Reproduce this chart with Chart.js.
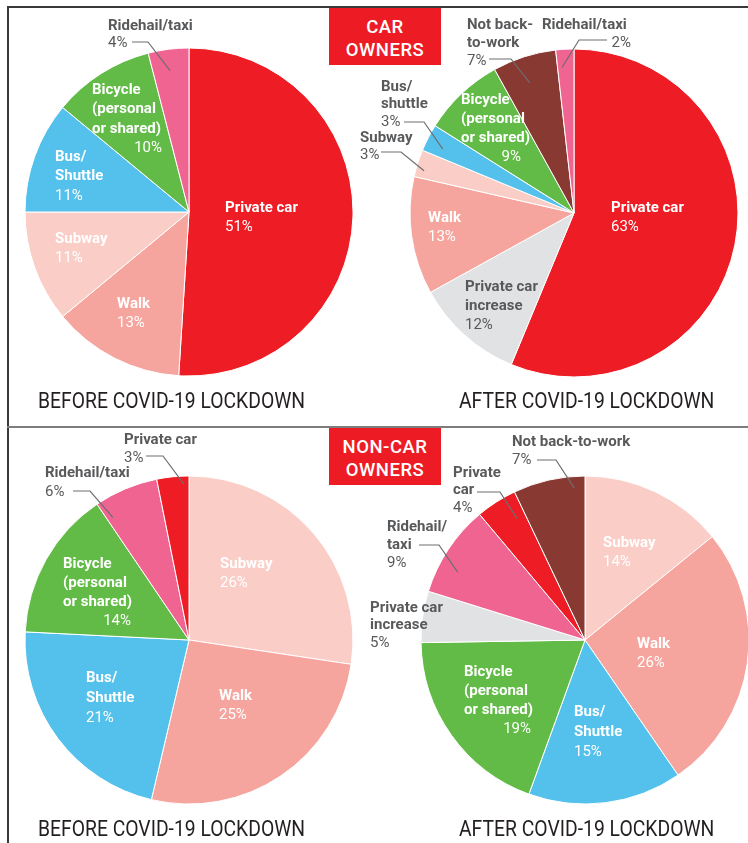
<!DOCTYPE html>
<html>
<head>
<meta charset="utf-8">
<script src="https://cdn.jsdelivr.net/npm/chart.js@4.4.1/dist/chart.umd.min.js"></script>
<style>
  html, body { margin: 0; padding: 0; background: #fff; }
  body { width: 748px; height: 843px; overflow: hidden; position: relative; font-family: Roboto, sans-serif; }
  canvas { position: absolute; left: 0; top: 0; }
  .rule { position: absolute; }
  .tag {
    position: absolute; left: 329px; width: 112px; height: 57px; box-sizing: border-box;
    padding-top: 8px; background: #ED1C24; color: #fff; text-align: center;
    font: 500 18.5px Roboto, sans-serif; line-height: 23px; letter-spacing: 0.5px;
  }
  .head {
    position: absolute; white-space: nowrap; color: #231f20;
    font: 400 22px Roboto, sans-serif; line-height: 22px; transform-origin: 0 50%;
  }
</style>
</head>
<body>
<div class="rule" style="left:7px;top:6px;width:741px;height:2px;background:#3a3a3a"></div>
<div class="rule" style="left:7px;top:6px;width:2px;height:837px;background:#3a3a3a"></div>
<div class="rule" style="left:7px;top:426px;width:741px;height:2px;background:#7d7d7d"></div>

<canvas id="carBefore" width="760" height="843"></canvas>
<canvas id="carAfter" width="760" height="843"></canvas>
<canvas id="nonCarBefore" width="760" height="843"></canvas>
<canvas id="nonCarAfter" width="760" height="843"></canvas>

<div class="tag" style="top:8px">CAR<br>OWNERS</div>
<div class="tag" style="top:428px">NON-CAR<br>OWNERS</div>

<div class="head" style="left:38px;top:390px" data-w="267">BEFORE COVID-19 LOCKDOWN</div>
<div class="head" style="left:459px;top:390px" data-w="255">AFTER COVID-19 LOCKDOWN</div>
<div class="head" style="left:38px;top:818px" data-w="267">BEFORE COVID-19 LOCKDOWN</div>
<div class="head" style="left:459px;top:818px" data-w="255">AFTER COVID-19 LOCKDOWN</div>

<script>
// ---- data (share of commuters, %) ----
const carBeforeLabels = ['Private car', 'Walk', 'Subway', 'Bus/Shuttle', 'Bicycle (personal or shared)', 'Ridehail/taxi'];
const carBeforeValues = [51, 13, 11, 11, 10, 4];

const carAfterLabels = ['Private car', 'Private car increase', 'Walk', 'Subway', 'Bus/shuttle',
    'Bicycle (personal or shared)', 'Not back-to-work', 'Ridehail/taxi'];
const carAfterValues = [63, 12, 13, 3, 3, 9, 7, 2];

const nonCarBeforeLabels = ['Subway', 'Walk', 'Bus/Shuttle', 'Bicycle (personal or shared)', 'Ridehail/taxi', 'Private car'];
const nonCarBeforeValues = [26, 25, 21, 14, 6, 3];

const nonCarAfterLabels = ['Subway', 'Walk', 'Bus/Shuttle', 'Bicycle (personal or shared)', 'Private car increase',
    'Ridehail/taxi', 'Private car', 'Not back-to-work'];
const nonCarAfterValues = [14, 26, 15, 19, 5, 9, 4, 7];

const modeColors = {
    'private car': '#EE1C25',
    'private car increase': '#E1E2E4',
    'walk': '#F6A59E',
    'subway': '#FACEC7',
    'bus/shuttle': '#54C1EC',
    'bicycle (personal or shared)': '#62BB46',
    'ridehail/taxi': '#EF6491',
    'not back-to-work': '#883932'
};

const RADIUS = 164;
const DARK = '#58595B';

// label layout per slice: offsets from pie centre, name lines, leader lines for outside labels
const carBeforeText = [
    { at: [36, -4], name: ['Private car'] },
    { at: [-72, 92], name: ['Walk'] },
    { at: [-134, 27], name: ['Subway'] },
    { at: [-134, -55], name: ['Bus/', 'Shuttle'] },
    { at: [-97, -122], name: ['Bicycle', '(personal', 'or shared)'], pctRight: -27 },
    { at: [-81, -186], name: ['Ridehail/taxi'], out: true, gap: 17,
      leader: { x1: -57, x2: -41, y: -170, t: 0.47, r: 0.87 } }
];

const carAfterText = [
    { at: [37, -5], name: ['Private car'] },
    { at: [-109, 74], name: ['Private car', 'increase'], dark: true, gap: 19 },
    { at: [-146, 5], name: ['Walk'] },
    { at: [-214, -75], name: ['Subway'], out: true, gap: 17,
      leader: { x1: -193, x2: -173, y: -61, t: 0.3, r: 0.95 } },
    { at: [-193, -126], name: ['Bus/', 'shuttle'], out: true, gap: 17.5,
      leader: { x1: -170, x2: -150, y: -91, t: 0.36, r: 0.89 } },
    { at: [-113, -113], name: ['Bicycle', '(personal', 'or shared)'], pctRight: -53, gap: 19 },
    { at: [-107, -188], name: ['Not back-', 'to-work'], out: true, gap: 18,
      leader: { x1: -85, x2: -63, y: -154, t: 0.45, r: 0.84 } },
    { at: [-32, -188], name: ['Ridehail/taxi'], out: true, gap: 18, pctRight: 57,
      leader: { x1: 33, x2: 5, y: -173, t: 0.27, r: 0.89 } }
];

const nonCarBeforeText = [
    { at: [31, -76], name: ['Subway'] },
    { at: [30, 56], name: ['Walk'] },
    { at: [-103, 38], name: ['Bus/', 'Shuttle'], gap: 20 },
    { at: [-126, -76], name: ['Bicycle', '(personal', 'or shared)'], pctRight: -58, gap: 19 },
    { at: [-144, -167], name: ['Ridehail/taxi'], out: true, gap: 19,
      leader: { x1: -116, x2: -99, y: -149, t: 0.1, r: 0.88 } },
    { at: [-65, -200], name: ['Private car'], out: true, gap: 18,
      leader: { x1: -43, x2: -26, y: -184, t: 0.84, r: 0.95 } }
];

const nonCarAfterText = [
    { at: [18, -97], name: ['Subway'] },
    { at: [52, 4], name: ['Walk'] },
    { at: [-11, 72], name: ['Bus/', 'Shuttle'], gap: 20 },
    { at: [-121, 32], name: ['Bicycle', '(personal', 'or shared)'], pctRight: -54, gap: 19 },
    { at: [-215, -32], name: ['Private car', 'increase'], out: true, gap: 17.5 },
    { at: [-198, -113], name: ['Ridehail/', 'taxi'], out: true, gap: 18,
      leader: { x1: -166, x2: -146, y: -95, t: 0.33, r: 0.88 } },
    { at: [-132, -167], name: ['Private', 'car'], out: true, gap: 17.5,
      leader: { x1: -108, x2: -85, y: -148, t: 0.74, r: 0.85 } },
    { at: [-73, -198], name: ['Not back-to-work'], out: true, gap: 18,
      leader: { x1: -48, x2: -29, y: -180, t: 0.84, r: 0.93 } }
];

const sliceLabels = {
    id: 'sliceLabels',
    afterDatasetsDraw(chart, args, opts) {
        const ctx = chart.ctx;
        const meta = chart.getDatasetMeta(0);
        const values = chart.data.datasets[0].data;
        ctx.save();
        ctx.textBaseline = 'middle';
        opts.specs.forEach((s, i) => {
            const arc = meta.data[i];
            const cx = arc.x, cy = arc.y;
            const gap = s.gap || 19.5;
            const color = (s.out || s.dark) ? DARK : '#ffffff';
            const x = cx + s.at[0];
            let y = cy + s.at[1];

            ctx.fillStyle = color;
            ctx.textAlign = 'left';
            ctx.font = 'bold 15px Roboto';
            s.name.forEach(line => {
                ctx.fillText(line, x, y);
                y += gap;
            });
            ctx.font = '15px Roboto';
            if (s.pctRight !== undefined) {
                ctx.textAlign = 'right';
                ctx.fillText(values[i] + '%', cx + s.pctRight, y);
            } else {
                ctx.fillText(values[i] + '%', x, y);
            }

            if (s.leader) {
                const L = s.leader;
                const a = arc.startAngle + L.t * (arc.endAngle - arc.startAngle);
                const ex = cx + Math.cos(a) * arc.outerRadius * L.r;
                const ey = cy + Math.sin(a) * arc.outerRadius * L.r;
                ctx.strokeStyle = '#6d6e71';
                ctx.lineWidth = 1.2;
                ctx.beginPath();
                ctx.moveTo(cx + L.x1, cy + L.y);
                ctx.lineTo(cx + L.x2, cy + L.y);
                ctx.lineTo(ex, ey);
                ctx.stroke();
            }
        });
        ctx.restore();
    }
};

function makePie(id, labels, values, specs, centre) {
    const canvas = document.getElementById(id);
    const w = canvas.width, h = canvas.height;
    const half = RADIUS + 0.5;
    return new Chart(canvas, {
        type: 'pie',
        data: {
            labels: labels,
            datasets: [{
                data: values,
                backgroundColor: labels.map(l => modeColors[l.toLowerCase()]),
                borderColor: '#ffffff',
                borderWidth: 1
            }]
        },
        options: {
            responsive: false,
            devicePixelRatio: 1,
            animation: false,
            events: [],
            layout: {
                padding: {
                    left: centre[0] - half,
                    right: w - centre[0] - half,
                    top: centre[1] - half,
                    bottom: h - centre[1] - half
                }
            },
            plugins: {
                legend: { display: false },
                tooltip: { enabled: false },
                sliceLabels: { specs: specs }
            }
        },
        plugins: [sliceLabels]
    });
}

document.fonts.load('bold 15px Roboto').then(() => document.fonts.load('15px Roboto')).finally(() => {
    makePie('carBefore', carBeforeLabels, carBeforeValues, carBeforeText, [189, 212]);
    makePie('carAfter', carAfterLabels, carAfterValues, carAfterText, [574, 213]);
    makePie('nonCarBefore', nonCarBeforeLabels, nonCarBeforeValues, nonCarBeforeText, [189, 640]);
    makePie('nonCarAfter', nonCarAfterLabels, nonCarAfterValues, nonCarAfterText, [585, 640]);

    document.querySelectorAll('.head').forEach(el => {
        const target = Number(el.dataset.w);
        el.style.transform = 'scaleX(' + (target / el.offsetWidth) + ')';
    });
});
</script>
</body>
</html>
